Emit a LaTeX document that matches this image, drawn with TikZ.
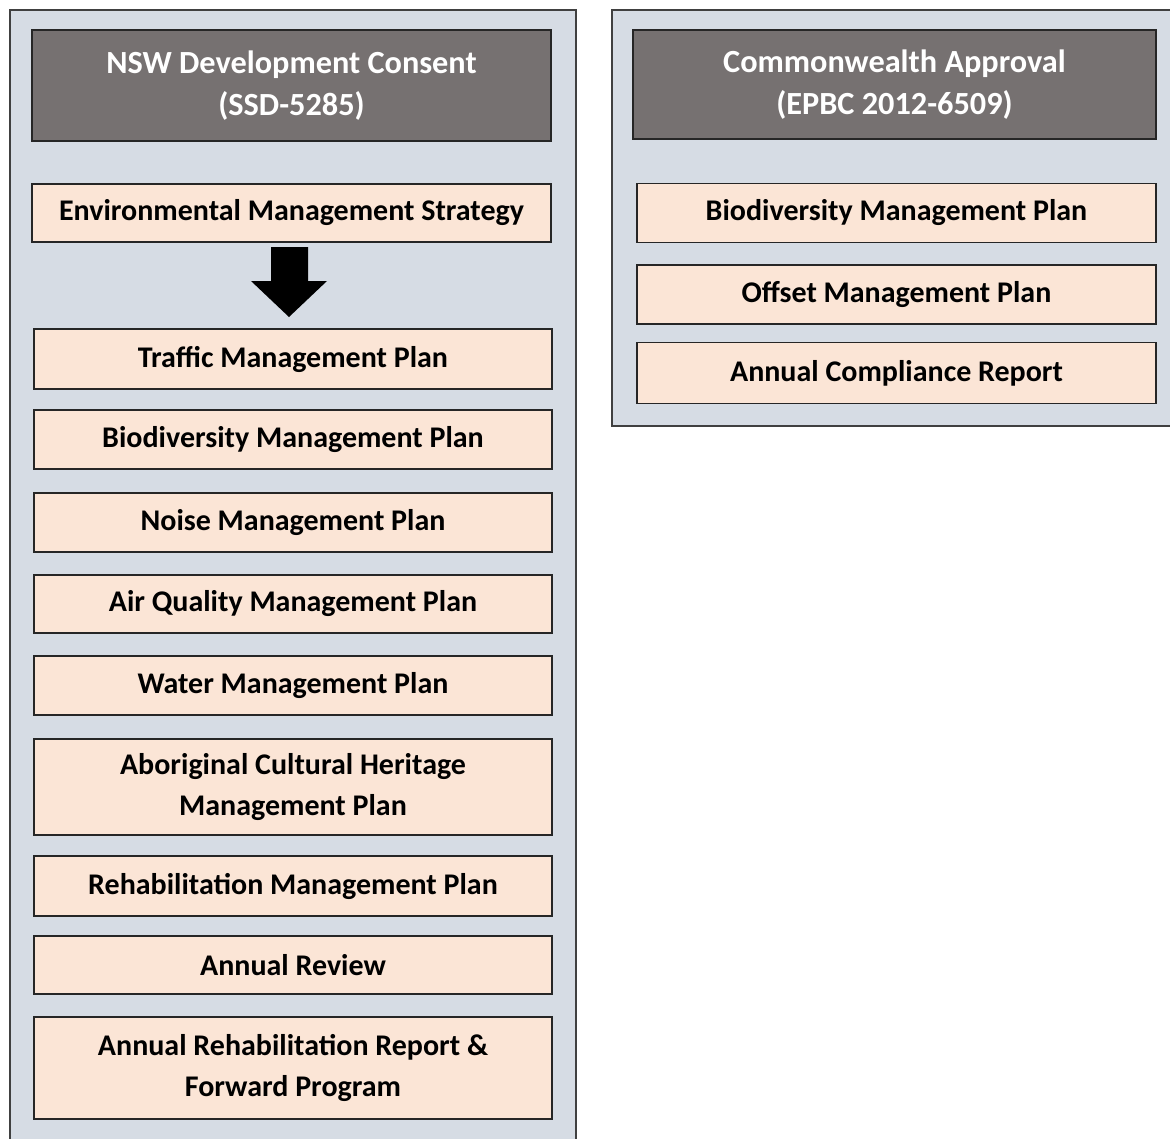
\documentclass[tikz,border=0pt]{standalone}
\usepackage{fontspec}
\setmainfont{Carlito}
\definecolor{panelfill}{HTML}{D6DCE4}
\definecolor{panelline}{HTML}{404040}
\definecolor{headfill}{HTML}{767171}
\definecolor{itemfill}{HTML}{FBE5D6}
\tikzset{
  panel/.style={draw=panelline, fill=panelfill, line width=1.5pt},
  head/.style={draw=black!85, fill=headfill, line width=1.5pt, text=white, align=center,
    font=\fontsize{32.3}{42}\selectfont\bfseries, inner sep=0pt},
  item/.style={draw=black!85, fill=itemfill, line width=1.5pt, text=black, align=center,
    font=\fontsize{30}{41}\selectfont\bfseries, inner sep=0pt},
  blockarrow/.style={fill=black, draw=none}
}
\begin{document}
\begin{tikzpicture}[x=1pt,y=-1pt]
\useasboundingbox (0,0) rectangle (1170,1138);
% panels
\path[panel] (10,10) rectangle (576,1160);
\path[panel] (612,10) rectangle (1185,426);
% left headers and items
\node[head, minimum width=519pt, minimum height=111pt] (nsw) at (291.5,85.5) {NSW Development Consent\\(SSD-5285)};
\node[item, minimum width=519pt, minimum height=58pt] (ems) at (291.5,213) {Environmental Management Strategy};
\node[item, minimum width=518pt, minimum height=60pt] (traffic) at (293,359) {Traffic Management Plan};
\node[item, minimum width=518pt, minimum height=59pt] (bio) at (293,439.5) {Biodiversity Management Plan};
\node[item, minimum width=518pt, minimum height=59pt] (noise) at (293,522.5) {Noise Management Plan};
\node[item, minimum width=518pt, minimum height=58pt] (air) at (293,604) {Air Quality Management Plan};
\node[item, minimum width=518pt, minimum height=59pt] (water) at (293,685.5) {Water Management Plan};
\node[item, minimum width=518pt, minimum height=96pt] (abor) at (293,787) {Aboriginal Cultural Heritage\\Management Plan};
\node[item, minimum width=518pt, minimum height=60pt] (rehab) at (293,886) {Rehabilitation Management Plan};
\node[item, minimum width=518pt, minimum height=58pt] (review) at (293,965) {Annual Review};
\node[item, minimum width=518pt, minimum height=102pt] (arr) at (293,1068) {Annual Rehabilitation Report \&\\Forward Program};
% block arrow
\coordinate (arrtip) at (289,317);
\fill[blockarrow] (271,247) -- (308,247) -- (308,281) -- (327,281) -- (arrtip) -- (251,281) -- (271,281) -- cycle;
% right header and items
\node[head, minimum width=523pt, minimum height=109pt] (cw) at (894.5,84.5) {Commonwealth Approval\\(EPBC 2012-6509)};
\node[item, minimum width=519pt, minimum height=59pt] (cbio) at (896.5,213) {Biodiversity Management Plan};
\node[item, minimum width=519pt, minimum height=59pt] (offset) at (896.5,294.5) {Offset Management Plan};
\node[item, minimum width=519pt, minimum height=61pt] (acr) at (896.5,373) {Annual Compliance Report};
\end{tikzpicture}
\end{document}
